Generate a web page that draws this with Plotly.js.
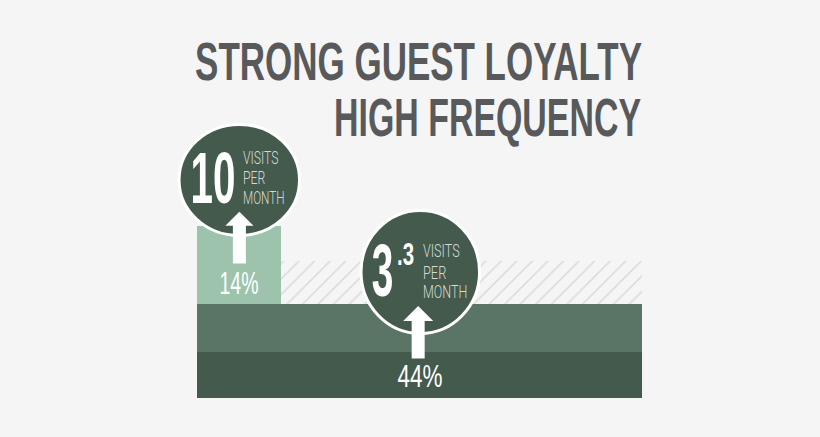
<!DOCTYPE html>
<html><head><meta charset="utf-8">
<script src="https://cdn.plot.ly/plotly-3.0.1.min.js"></script>
<style>html,body{margin:0;padding:0;background:#f5f5f5;}#chart{width:820px;height:437px;}</style>
</head><body><div id="chart"></div>
<script>
// ---- data ----
const titleLines = ['STRONG GUEST LOYALTY', 'HIGH FREQUENCY'];
const shareLabels = ['14%', '44%'];
const visitWhole = ['10', '3'];
const visitDecimal = ['', '.3'];
const unitWords = ['VISITS', 'PER', 'MONTH'];
const bandNames = ['Base band', 'Middle band'];
const bandValues = [4.6, 4.8];
const groupNames = ['Loyal guests', 'Other guests'];
const groupValues = [7.8, 4.3];
const groupSpans = [18.8, 81.2];

// ---- styles ----
const BG = '#f5f5f5', DARK = '#445a4d', MID = '#5a7565', LIGHT = '#9dc3ac',
      GREY = '#58595b', PALE = '#d5dad6', WHITE = '#ffffff';
const F_BOLD = "'Liberation Sans Narrow', 'Liberation Sans', Arial, sans-serif";
const F_THIN = "Roboto, 'Liberation Sans Narrow', 'Liberation Sans', sans-serif";

const total = groupSpans.reduce((a, b) => a + b, 0);
const traces = [];
let base = 0;
bandValues.forEach((v, i) => {
  traces.push({type: 'bar', name: bandNames[i], x: [total / 2], width: [total], y: [v], base: [base],
    marker: {color: i === 0 ? DARK : MID, line: {width: 0}}, hoverinfo: 'skip', showlegend: false});
  base += v;
});
let left = 0;
groupValues.forEach((v, i) => {
  const t = {type: 'bar', name: groupNames[i], x: [left + groupSpans[i] / 2], width: [groupSpans[i]],
    y: [v], base: [base], hoverinfo: 'skip', showlegend: false, marker: {line: {width: 0}}};
  if (i === 0) t.marker.color = LIGHT;
  else {
    t.marker.color = BG;
    t.marker.pattern = {shape: '/', fgcolor: '#d8d8d8', bgcolor: BG, size: 11, solidity: 0.13, fillmode: 'replace'};
  }
  traces.push(t);
  left += groupSpans[i];
});

// ---- layout pieces ----
const circleBoxes = [
  {x0: -4.04, x1: 23.03, y0: 16.25, y1: 27.35},
  {x0: 36.85, x1: 63.48, y0: 6.45, y1: 18.75}
];
const shapes = circleBoxes.map(c => Object.assign({type: 'circle', xref: 'x', yref: 'y', layer: 'above',
  fillcolor: DARK, line: {color: WHITE, width: 3}}, c));

const annotations = [];
const fits = [];
function label(text, x, y, size, family, weight, color, anchor, width) {
  annotations.push({text: text, x: x, y: y, xref: 'x', yref: 'y', showarrow: false,
    xanchor: anchor, yanchor: 'middle', align: anchor === 'right' ? 'right' : (anchor === 'left' ? 'left' : 'center'),
    font: {family: family, size: size, color: color, weight: weight}, borderpad: 0});
  fits.push({width: width, pivot: anchor});
}
// block arrow = shaft (plain thick line) + head (filled triangle on a hairline)
function arrow(x, tipY, headBaseY, tailY, headSize) {
  annotations.push({text: '', x: x, y: headBaseY + 0.2, ax: x, ay: tailY, xref: 'x', yref: 'y', axref: 'x', ayref: 'y',
    showarrow: true, arrowhead: 0, arrowwidth: 13, arrowcolor: WHITE,
    standoff: 0, startstandoff: 0, font: {size: 1}});
  fits.push(null);
  annotations.push({text: '', x: x, y: tipY, ax: x, ay: headBaseY, xref: 'x', yref: 'y', axref: 'x', ayref: 'y',
    showarrow: true, arrowhead: 1, arrowwidth: 1, arrowsize: headSize, arrowcolor: WHITE,
    standoff: 0, startstandoff: 0, font: {size: 1}});
  fits.push(null);
}

// title line 2
label(titleLines[1], 100, 28.05, 53, F_BOLD, 700, GREY, 'right', 307);
// arrows
arrow(9.52, 18.63, 17.3, 13.3, 4.7);
arrow(49.69, 9.2, 7.9, 3.8, 5.0);
// circle 1
label(visitWhole[0], 3.48, 22.05, 72, F_BOLD, 700, WHITE, 'center', 45);
[[24.05, 35.6], [22.02, 22.3], [20.1, 41.6]].forEach((p, i) =>
  label(unitWords[i], 10.04, p[0], 18, F_THIN, 300, PALE, 'left', p[1]));
// circle 2
label(visitWhole[1], 41.69, 12.72, 74, F_BOLD, 700, WHITE, 'center', 21.6);
label(visitDecimal[1], 44.61, 14.4, 31, F_BOLD, 700, WHITE, 'left', 17);
[[14.75, 36.7], [12.55, 23.3], [10.65, 44.3]].forEach((p, i) =>
  label(unitWords[i], 50.49, p[0], 18, F_THIN, 300, PALE, 'left', p[1]));
// shares
label(shareLabels[0], 9.33, 11.46, 32, F_BOLD, 400, WHITE, 'center', 39);
label(shareLabels[1], 50.0, 2.2, 31, F_BOLD, 400, WHITE, 'center', 45);

const layout = {
  width: 820, height: 437,
  margin: {l: 0, r: 0, t: 0, b: 0, pad: 0},
  paper_bgcolor: BG, plot_bgcolor: BG,
  barmode: 'overlay', bargap: 0,
  showlegend: false,
  title: {text: titleLines[0], x: 642 / 820, xref: 'paper', xanchor: 'right', y: 1 - 61 / 437, yref: 'container',
    yanchor: 'middle', font: {family: F_BOLD, size: 53, color: GREY, weight: 700}},
  xaxis: {range: [-44.27, 139.98], visible: false, fixedrange: true},
  yaxis: {range: [-3.9, 39.8], visible: false, fixedrange: true},
  shapes: shapes,
  annotations: annotations
};

function squeeze(el, w, pivot) {
  if (!el || !w) return;
  const b = el.getBBox();
  if (!b.width) return;
  const s = w / b.width;
  const p = pivot === 'left' ? b.x : (pivot === 'right' ? b.x + b.width : b.x + b.width / 2);
  const prev = el.getAttribute('transform') || '';
  el.setAttribute('transform', prev + ' translate(' + p + ',0) scale(' + s + ',1) translate(' + (-p) + ',0)');
}

Plotly.newPlot('chart', traces, layout, {staticPlot: true, displayModeBar: false}).then(gd => {
  gd.querySelectorAll('g.annotation').forEach(g => {
    const idx = +g.getAttribute('data-index');
    const f = fits[idx];
    if (f) squeeze(g.querySelector('text.annotation-text'), f.width, f.pivot);
  });
  squeeze(gd.querySelector('text.gtitle'), 447, 'right');
});
</script></body></html>
